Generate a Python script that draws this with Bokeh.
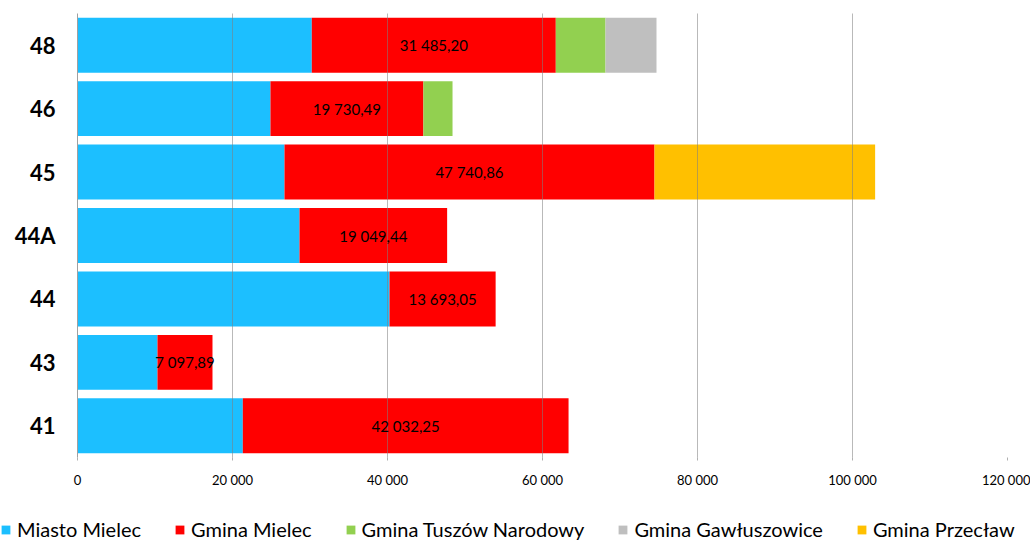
from bokeh.plotting import figure
from bokeh.models import (ColumnDataSource, FactorRange, Range1d, Legend, LegendItem,
                          LabelSet, FixedTicker, CustomJSTickFormatter)
from bokeh.core.properties import value
from bokeh.embed import file_html
from bokeh.resources import INLINE

categories = ["41", "43", "44", "44A", "45", "46", "48"]
miasto_mielec = [21330, 10320, 40260, 28645, 26710, 24900, 30230]
gmina_mielec = [42032.25, 7097.89, 13693.05, 19049.44, 47740.86, 19730.49, 31485.20]
gmina_tuszow = [0, 0, 0, 0, 0, 3760, 6415]
gmina_gawluszowice = [0, 0, 0, 0, 0, 0, 6580]
gmina_przeclaw = [0, 0, 0, 0, 28470, 0, 0]

series_names = ["Miasto Mielec", "Gmina Mielec", "Gmina Tuszów Narodowy",
                "Gmina Gawłuszowice", "Gmina Przecław"]
series_keys = ["miasto", "gmina", "tuszow", "gawl", "przeclaw"]
colors = ["#1CBFFF", "#FF0000", "#92D050", "#BFBFBF", "#FFC000"]
x_ticks = [0, 20000, 40000, 60000, 80000, 100000, 120000]

def fmt(v):
    s = f"{v:,.2f}"
    return s.replace(",", " ").replace(".", ",")

src = ColumnDataSource(dict(
    cat=categories,
    miasto=miasto_mielec,
    gmina=gmina_mielec,
    tuszow=gmina_tuszow,
    gawl=gmina_gawluszowice,
    przeclaw=gmina_przeclaw,
    label_x=[m + g / 2 for m, g in zip(miasto_mielec, gmina_mielec)],
    label_text=[fmt(g) for g in gmina_mielec],
))

p = figure(y_range=FactorRange(factors=categories), x_range=Range1d(0, 120000),
           width=1030, height=516, output_backend="svg", toolbar_location=None,
           min_border_left=77, min_border_right=23, min_border_top=13, min_border_bottom=59)
p.outline_line_color = None

renderers = p.hbar_stack(series_keys, y="cat", height=0.866, color=colors,
                         source=src, line_color=None)

labels = LabelSet(x="label_x", y="cat", text="label_text", source=src,
                  text_align="center", text_baseline="middle",
                  text_font=value("Lato"), text_font_size="15px", text_color="#000000")
p.add_layout(labels)

p.xaxis.ticker = FixedTicker(ticks=x_ticks)
p.xgrid.ticker = FixedTicker(ticks=x_ticks)
p.xaxis.formatter = CustomJSTickFormatter(code="""
const s = Math.round(tick).toString();
return s.replace(/\\B(?=(\\d{3})+(?!\\d))/g, " ");
""")
p.xaxis.axis_line_color = None
p.xaxis.major_tick_line_color = "#b0b0b0"
p.xaxis.major_tick_in = 0
p.xaxis.major_tick_out = 3
p.xaxis.minor_tick_line_color = None
p.xaxis.major_label_text_font = "Lato"
p.xaxis.major_label_text_font_size = "13px"
p.xaxis.major_label_text_color = "#000000"
p.xaxis.major_label_standoff = 11

p.yaxis.axis_line_color = "#a0a0a0"
p.yaxis.major_tick_line_color = None
p.yaxis.major_tick_out = 0
p.yaxis.major_tick_in = 0
p.yaxis.minor_tick_line_color = None
p.yaxis.major_label_text_font = "Lato"
p.yaxis.major_label_text_font_style = "bold"
p.yaxis.major_label_text_font_size = "22px"
p.yaxis.major_label_text_color = "#000000"
p.yaxis.major_label_standoff = 22

p.ygrid.visible = False
p.xgrid.grid_line_color = "#808080"
p.xgrid.grid_line_alpha = 0.55
p.xgrid.level = "annotation"

# Legend strip below the chart (separate root so its frame spans the full width)
p2 = figure(width=1030, height=25, output_backend="svg", toolbar_location=None,
            x_axis_type=None, y_axis_type=None,
            x_range=Range1d(-10, -9), y_range=FactorRange(factors=categories),
            min_border_left=0, min_border_right=0, min_border_top=0, min_border_bottom=0)
p2.outline_line_color = None
leg_renderers = p2.hbar_stack(series_keys, y="cat", height=0.866, color=colors,
                              source=src, line_color=None)
items = [LegendItem(label=n, renderers=[r]) for n, r in zip(series_names, leg_renderers)]
legend = Legend(items=items, orientation="horizontal", location=(0, 0),
                label_text_font="Lato", label_text_font_size="20px",
                label_text_color="#000000", glyph_width=11, glyph_height=11,
                label_standoff=6, spacing=33, padding=1, margin=0,
                border_line_color=None, background_fill_alpha=0)
p2.add_layout(legend)

open("out.html", "w").write(file_html([p, p2], INLINE))
